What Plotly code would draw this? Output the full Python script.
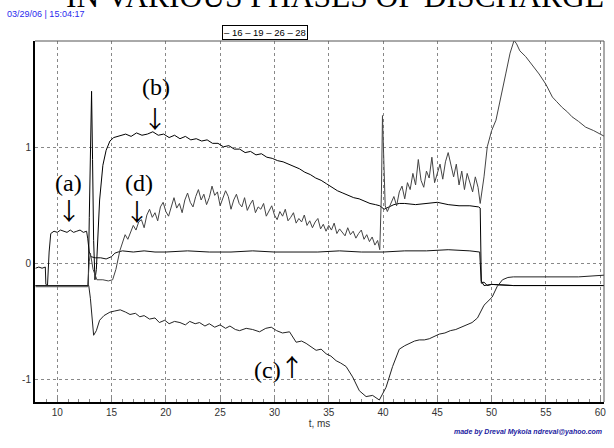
import plotly.graph_objects as go

# ---------------- data ----------------
t_16 = [8.0, 8.3, 8.6, 8.9, 8.95, 9.1, 9.25, 9.4, 9.7, 10.0, 10.3, 10.6, 10.9, 11.2, 11.5, 11.8, 12.1,
        12.4, 12.7, 12.8, 12.95, 13.1, 13.5, 14.0, 14.5, 15.0, 15.3, 15.6, 16, 17, 18, 19, 20, 22, 24,
        26, 28, 30, 32, 34, 36, 38, 40, 42, 44, 46, 48, 48.9, 49.05, 49.3, 49.6, 50, 52, 55, 58, 60.4]
v_16 = [-0.04, -0.03, -0.04, -0.03, -0.18, -0.19, 0.10, 0.26, 0.28, 0.27, 0.29, 0.28, 0.27, 0.29, 0.27,
        0.28, 0.29, 0.27, 0.28, 0.22, 0.10, 0.06, 0.05, 0.05, 0.04, 0.06, 0.09, 0.10, 0.11, 0.10, 0.11,
        0.10, 0.10, 0.11, 0.10, 0.10, 0.11, 0.10, 0.10, 0.10, 0.11, 0.10, 0.10, 0.11, 0.11, 0.12, 0.11,
        0.10, -0.17, -0.16, -0.19, -0.18, -0.19, -0.19, -0.19, -0.19]

t_19 = [8, 12.85, 12.95, 13.05, 13.16, 13.25, 13.35, 13.47, 13.6, 13.9, 14.2, 14.5, 14.85, 15.2, 15.8,
        16.3, 16.8, 17.3, 17.8, 18.3, 18.8, 19.3, 19.8, 20.3, 20.8, 21.3, 21.8, 22.3, 22.8, 23.3, 23.8,
        24.3, 24.8, 25.3, 25.8, 26.3, 26.8, 27.3, 27.8, 28.3, 28.8, 29.3, 29.8, 30.3, 30.8, 31.3, 31.8,
        32.3, 32.8, 33.3, 33.8, 34.3, 34.8, 35.3, 35.8, 36.3, 36.8, 37.3, 37.8, 38.3, 38.8, 39.3, 39.7,
        40.1, 40.5, 41.0, 41.5, 42, 43, 44, 45, 46, 47, 48, 48.8, 48.95, 49.05, 49.3, 50, 52, 55, 58, 60.4]
v_19 = [-0.19, -0.19, 0.40, 1.10, 1.49, 0.90, 0.20, -0.14, -0.05, 0.55, 0.85, 0.98, 1.06, 1.09, 1.11,
        1.12, 1.10, 1.13, 1.11, 1.12, 1.14, 1.11, 1.12, 1.09, 1.11, 1.08, 1.10, 1.07, 1.08, 1.06, 1.07,
        1.04, 1.04, 1.01, 1.02, 0.99, 0.99, 0.96, 0.97, 0.94, 0.95, 0.92, 0.91, 0.89, 0.88, 0.86, 0.84,
        0.82, 0.79, 0.77, 0.74, 0.72, 0.69, 0.66, 0.63, 0.61, 0.59, 0.57, 0.56, 0.54, 0.52, 0.51, 0.50,
        0.47, 0.49, 0.51, 0.52, 0.52, 0.51, 0.52, 0.53, 0.51, 0.50, 0.50, 0.49, 0.48, -0.15, -0.19, -0.18,
        -0.19, -0.19, -0.19, -0.19]

t_26 = [8, 12.8, 12.95, 13.05, 13.3, 13.65, 14.2, 14.7, 15.1, 15.4, 15.76,
        16.0, 16.25, 16.5, 16.75, 17.0, 17.25, 17.5, 17.75, 18.0, 18.25, 18.5, 18.75, 19.0, 19.25, 19.5,
        19.75, 20.0, 20.25, 20.5, 20.75, 21.0, 21.25, 21.5, 21.75, 22.0, 22.25, 22.5, 22.75, 23.0, 23.25,
        23.5, 23.75, 24.0, 24.25, 24.5, 24.75, 25.0, 25.25, 25.5, 25.75, 26.0, 26.25, 26.5, 26.75, 27.0,
        27.25, 27.5, 27.75, 28.0, 28.25, 28.5, 28.75, 29.0, 29.25, 29.5, 29.75, 30.0, 30.25, 30.5, 30.75,
        31.0, 31.25, 31.5, 31.75, 32.0, 32.25, 32.5, 32.75, 33.0, 33.25, 33.5, 33.75, 34.0, 34.25, 34.5,
        34.75, 35.0, 35.25, 35.5, 35.75, 36.0, 36.25, 36.5, 36.75, 37.0, 37.25, 37.5, 37.75, 38.0, 38.25,
        38.5, 38.75, 39.0, 39.25, 39.5, 39.7, 39.85, 39.95, 40.05, 40.2, 40.4,
        40.75, 41.0, 41.25, 41.5, 41.75, 42.0, 42.25, 42.5, 42.75, 43.0, 43.25, 43.5, 43.75, 44.0, 44.25,
        44.5, 44.75, 45.0, 45.25, 45.5, 45.75, 46.0, 46.25, 46.5, 46.75, 47.0, 47.25, 47.5, 47.75, 48.0,
        48.25, 48.5, 48.75, 48.95,
        49.3, 49.6, 50.0, 50.4, 50.9, 51.3, 51.7, 52.07, 52.3, 52.6, 53.14, 53.7, 54.37, 55.0, 55.6, 56.0,
        56.5, 57.0, 57.4, 58.0, 58.66, 59.4, 60.2, 60.4]
v_26 = [-0.20, -0.20, 0.02, 0.09, -0.05, -0.14, -0.14, -0.15, -0.14, -0.05, 0.11,
        0.18, 0.25, 0.21, 0.27, 0.33, 0.29, 0.36, 0.38, 0.31, 0.42, 0.47, 0.40, 0.44, 0.37, 0.49,
        0.53, 0.45, 0.41, 0.50, 0.57, 0.48, 0.52, 0.44, 0.55, 0.61, 0.53, 0.49, 0.58, 0.64, 0.55,
        0.60, 0.51, 0.57, 0.67, 0.59, 0.62, 0.50, 0.56, 0.63, 0.58, 0.47, 0.55, 0.60, 0.52, 0.49,
        0.57, 0.46, 0.51, 0.55, 0.44, 0.49, 0.47, 0.52, 0.41, 0.46, 0.50, 0.42, 0.38, 0.45, 0.41,
        0.47, 0.37, 0.40, 0.44, 0.35, 0.39, 0.36, 0.42, 0.33, 0.37, 0.31, 0.36, 0.39, 0.30, 0.34,
        0.28, 0.33, 0.29, 0.35, 0.26, 0.30, 0.27, 0.24, 0.31, 0.25, 0.28, 0.22, 0.26, 0.29, 0.21,
        0.25, 0.19, 0.23, 0.16, 0.20, 0.12, 0.60, 1.28, 0.90, 0.50, 0.45,
        0.52, 0.58, 0.50, 0.62, 0.67, 0.56, 0.70, 0.64, 0.78, 0.68, 0.90, 0.72, 0.66, 0.80, 0.74,
        0.92, 0.70, 0.78, 0.86, 0.73, 0.88, 0.96, 0.84, 0.75, 0.86, 0.68, 0.80, 0.64, 0.78, 0.70,
        0.62, 0.75, 0.66, 0.52,
        0.75, 1.01, 1.15, 1.24, 1.45, 1.64, 1.82, 1.93, 1.90, 1.84, 1.79, 1.72, 1.64, 1.55, 1.44, 1.40,
        1.35, 1.31, 1.27, 1.23, 1.18, 1.15, 1.11, 1.10]

t_28 = [8, 12.9, 13.05, 13.2, 13.35, 13.6, 13.9, 14.3, 14.85, 15.3, 15.8, 16.3, 16.7, 17.2, 17.6, 18.0,
        18.5, 19.0, 19.4, 19.9, 20.3, 20.8, 21.3, 21.8, 22.2, 22.7, 23.1, 23.6, 24.0, 24.5, 25.0, 25.5,
        25.9, 26.4, 26.79, 27.4, 27.99, 28.63, 29.2, 29.71, 30.2, 30.74, 31.39, 32.0, 32.5, 32.92, 33.4,
        33.84, 34.3, 34.76, 35.2, 35.68, 36.1, 36.6, 37.2, 37.82, 38.44, 39.04, 39.66, 40.28, 40.88, 41.5,
        42.0, 42.42, 42.9, 43.34, 43.8, 44.26, 44.7, 45.18, 45.7, 46.2, 46.7, 47.2, 47.7, 48.2, 48.7,
        49.3, 50.05, 50.5, 51.0, 51.5, 52, 55, 58, 60.4]
v_28 = [-0.19, -0.19, -0.30, -0.50, -0.62, -0.58, -0.49, -0.45, -0.42, -0.41, -0.40, -0.42, -0.44,
        -0.43, -0.46, -0.45, -0.48, -0.47, -0.51, -0.49, -0.52, -0.50, -0.51, -0.53, -0.50, -0.52, -0.51,
        -0.54, -0.52, -0.55, -0.53, -0.56, -0.54, -0.57, -0.58, -0.56, -0.57, -0.59, -0.56, -0.55, -0.58,
        -0.60, -0.59, -0.68, -0.67, -0.69, -0.72, -0.75, -0.74, -0.78, -0.80, -0.84, -0.86, -0.89, -0.98,
        -1.10, -1.15, -1.14, -1.18, -1.07, -0.89, -0.74, -0.71, -0.69, -0.67, -0.66, -0.66, -0.65, -0.63,
        -0.61, -0.60, -0.58, -0.57, -0.55, -0.53, -0.51, -0.47, -0.36, -0.29, -0.20, -0.14, -0.12,
        -0.115, -0.115, -0.115, -0.10]

series_names = ["16", "19", "26", "28"]
series_colors = ["#111111", "#000000", "#444444", "#222222"]

x_ticks = [10, 15, 20, 25, 30, 35, 40, 45, 50, 55, 60]
y_ticks = [-1, 0, 1]

title_text = "IN VARIOUS PHASES OF DISCHARGE"
date_text = "03/29/06 | 15:04:17"
credit_text = "made by Dreval Mykola ndreval@yahoo.com"
legend_text = "– 16 – 19 – 26 – 28"

letter_labels = [("(a)", 11.0, 0.695), ("(b)", 19.07, 1.525), ("(d)", 17.5, 0.695), ("(c)", 29.37, -0.923)]
arrow_labels = [("↓", 11.08, 0.47), ("↓", 18.98, 1.266), ("↓", 17.32, 0.46), ("↑", 31.66, -0.88)]

# ---------------- figure ----------------
fig = go.Figure()
for t, v, n, c in zip([t_16, t_19, t_26, t_28], [v_16, v_19, v_26, v_28], series_names, series_colors):
    fig.add_trace(go.Scatter(x=t, y=v, mode="lines", name=n, line=dict(color=c, width=1),
                             showlegend=False))

W, H = 614, 448
L, R, T, B = 35, 10, 41, 46
pw, ph = W - L - R, H - T - B

def px(xp):
    return (xp - L) / pw

def py(yp):
    return (H - B - yp) / ph

serif = "Liberation Serif, Times New Roman, serif"
sans = "Liberation Sans, Arial, sans-serif"
arrowfont = "Noto Sans CJK JP, DejaVu Serif, serif"

ann = []
ann.append(dict(text=title_text, x=px(64), y=py(16), xref="paper", yref="paper", xanchor="left",
                yanchor="bottom", showarrow=False, font=dict(family=serif, size=31.5, color="#000")))
ann.append(dict(text=date_text, x=px(5), y=py(14), xref="paper", yref="paper", xanchor="left",
                yanchor="middle", showarrow=False, font=dict(family=sans, size=9, color="#2a2aee")))
ann.append(dict(text=legend_text, x=px(264.5), y=py(32.5), xref="paper", yref="paper",
                xanchor="center", yanchor="middle", showarrow=False, bordercolor="#000", borderwidth=1,
                borderpad=1, bgcolor="white", font=dict(family=sans, size=9.5, color="#000")))
ann.append(dict(text="<b><i>" + credit_text + "</i></b>", x=px(604), y=py(432), xref="paper",
                yref="paper", xanchor="right", yanchor="middle", showarrow=False,
                font=dict(family=sans, size=7, color="#1a1aa0")))
for txt, x, y in letter_labels:
    ann.append(dict(text=txt, x=x, y=y, xref="x", yref="y", xanchor="center", yanchor="middle",
                    showarrow=False, font=dict(family=serif, size=24, color="#000")))
for txt, x, y in arrow_labels:
    ann.append(dict(text=txt, x=x, y=y, xref="x", yref="y", xanchor="center",
                    yanchor="middle", showarrow=False,
                    font=dict(family=arrowfont, size=24, color="#000")))

fig.update_layout(
    width=W, height=H, margin=dict(l=L, r=R, t=T, b=B, pad=0),
    paper_bgcolor="white", plot_bgcolor="white",
    annotations=ann, showlegend=False,
    xaxis=dict(range=[7.95, 60.35], tickvals=x_ticks, ticktext=[str(v) for v in x_ticks],
               automargin=False,
               showgrid=True, gridcolor="#888", griddash="3px,3px", gridwidth=1,
               zeroline=False, showline=True, linecolor="#000", linewidth=2,
               ticks="inside", ticklen=4, tickcolor="#888",
               minor=dict(dtick=1, ticks="inside", ticklen=3, tickcolor="#888", showgrid=False),
               tickfont=dict(family=sans, size=10, color="#333"),
               title=dict(text="t, ms", font=dict(family=sans, size=10, color="#333"), standoff=3)),
    yaxis=dict(range=[-1.197, 1.925], tickvals=y_ticks, ticktext=[str(v) for v in y_ticks],
               automargin=False,
               showgrid=True, gridcolor="#888", griddash="3px,3px", gridwidth=1,
               zeroline=False, showline=True, linecolor="#000", linewidth=2,
               ticks="", tickfont=dict(family=sans, size=10, color="#333")),
    shapes=[dict(type="line", xref="paper", yref="paper", x0=0, x1=1, y0=1, y1=1,
                 line=dict(color="#555", width=1)),
            dict(type="line", xref="paper", yref="paper", x0=1, x1=1, y0=0, y1=1,
                 line=dict(color="#555", width=1))],
)

fig.write_html("out.html", config={"displayModeBar": False},
               post_script="document.body.style.margin='0';document.body.style.padding='0';")
